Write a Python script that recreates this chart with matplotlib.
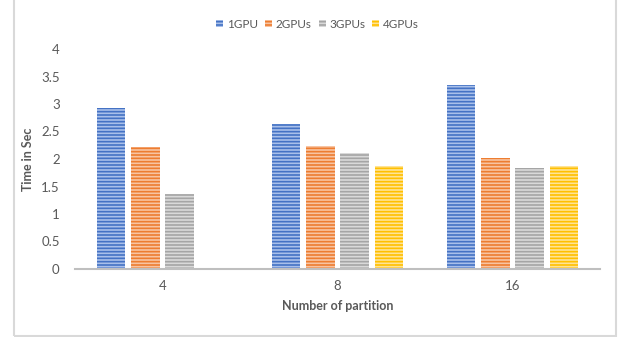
import numpy as np
import matplotlib.pyplot as plt
from matplotlib.patches import Rectangle

plt.rcParams['font.family'] = ['Lato', 'DejaVu Sans']
plt.rcParams['hatch.linewidth'] = 1.2

# data
partitions = ['4', '8', '16']
series = ['1GPU', '2GPUs', '3GPUs', '4GPUs']
gpu1 = [2.93, 2.64, 3.35]
gpu2 = [2.22, 2.24, 2.02]
gpu3 = [1.36, 2.11, 1.84]
gpu4 = [0, 1.87, 1.87]
values = [gpu1, gpu2, gpu3, gpu4]

main_cols = ['#4472c4', '#ed7d31', '#a5a5a5', '#ffc000']
light_cols = ['#a9c0ea', '#f8c4a2', '#d9d9d9', '#ffe395']

fig = plt.figure(figsize=(6.18, 3.37), dpi=100)
ax = fig.add_axes([75 / 618, 1 - 269 / 337, 525 / 618, 220 / 337])

x = np.arange(len(partitions))
w = 0.196
for i, (s, v) in enumerate(zip(series, values)):
    pos = x + (i - 1.5) * w
    ax.bar(pos, v, width=w * 0.83, color=light_cols[i], edgecolor=main_cols[i],
           linewidth=0, hatch='-----', label=s)

ax.set_xlim(-0.5, 2.5)
ax.set_ylim(0, 4)
ax.set_yticks(np.arange(0, 4.01, 0.5))
ax.set_yticklabels(['0', '0.5', '1', '1.5', '2', '2.5', '3', '3.5', '4'])
ax.set_xticks(x)
ax.set_xticklabels(partitions)
for sp in ['top', 'right', 'left']:
    ax.spines[sp].set_visible(False)
ax.spines['bottom'].set_color('#bfbfbf')
ax.spines['bottom'].set_linewidth(1.5)
ax.tick_params(length=0, colors='#595959', labelsize=9.5)
ax.tick_params(axis='y', pad=11)
ax.tick_params(axis='x', pad=8)

ax.set_ylabel('Time in Sec', fontsize=9, fontweight='bold', color='#595959', labelpad=5)
ax.set_xlabel('Number of partition', fontsize=9, fontweight='bold', color='#595959', labelpad=6)

leg = ax.legend(loc='lower center', bbox_to_anchor=(0.462, 1.06), ncol=4, frameon=False,
                fontsize=8.5, handlelength=0.6, handleheight=0.6, handletextpad=0.3,
                columnspacing=0.6, labelcolor='#595959', borderpad=0)

# light frame around chart area (top edge lies outside the image)
fig.patches.append(Rectangle((14 / 618, 1 / 337), 602 / 618, 340 / 337,
                             transform=fig.transFigure, fill=False,
                             edgecolor='#d9d9d9', linewidth=1.5))

fig.savefig('out.png', dpi=100)
